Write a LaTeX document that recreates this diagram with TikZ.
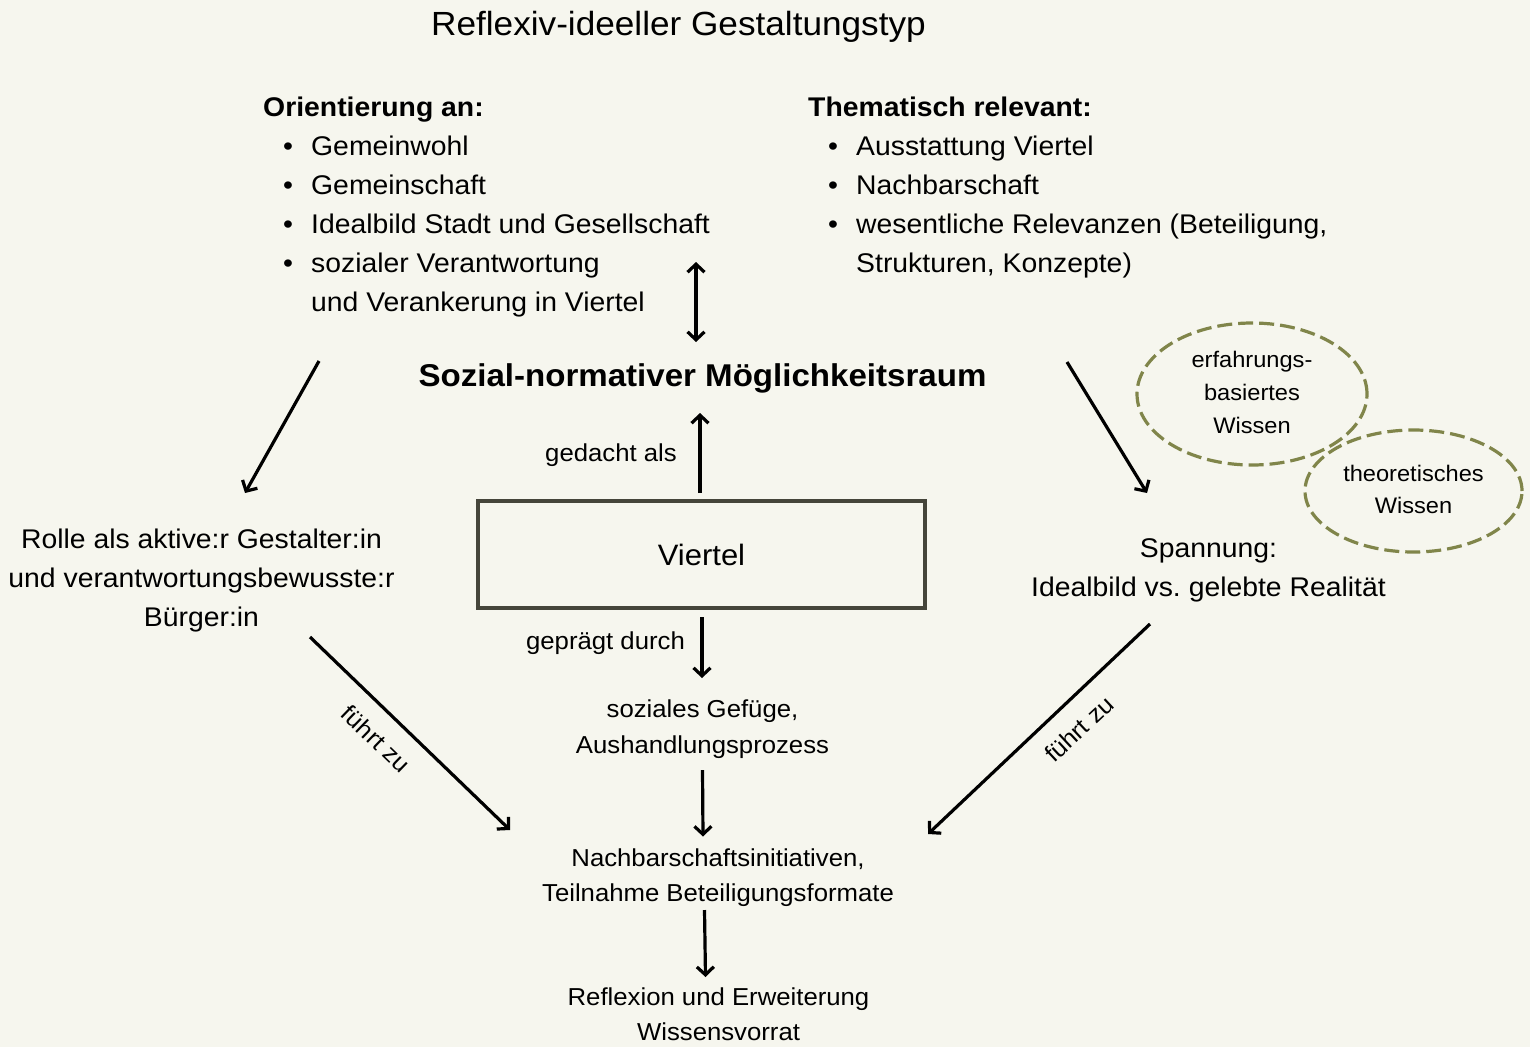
\documentclass[tikz,border=0pt]{standalone}
\usepackage{fontspec}
\setmainfont[FakeStretch=1.05]{Liberation Sans}
\usetikzlibrary{arrows.meta,shapes.geometric}
\definecolor{bgc}{HTML}{F6F6EE}
\definecolor{olivec}{HTML}{80854A}
\definecolor{boxc}{HTML}{45453A}
\newcommand{\fsz}[2]{\fontsize{#1}{#2}\selectfont}
\newcommand{\bul}{\makebox[48pt][l]{\hspace*{20pt}•}}
\newcommand{\ind}{\hspace*{48pt}}
\begin{document}
\begin{tikzpicture}[x=1pt,y=-1pt,
  txt/.style={inner sep=0pt, anchor=base, align=center},
  lst/.style={inner sep=0pt, anchor=base west, font=\fsz{27}{39}},
  arr/.style={line width=3.2pt, -{Straight Barb[length=8pt,width=17pt]}},
  darr/.style={line width=3.2pt, {Straight Barb[length=8pt,width=17pt]}-{Straight Barb[length=8pt,width=17pt]}},
  ell/.style={ellipse, draw=olivec, line width=3.2pt, dash pattern=on 15pt off 6pt, inner sep=0pt, align=center},
  lbl/.style={inner sep=0pt, font=\fsz{24}{28}}]
\fill[bgc] (0,0) rectangle (1530,1047);
\useasboundingbox (0,0) rectangle (1530,1047);

% title
\node[txt, font=\fsz{33.5}{40}] (title) at (678.5,35) {Reflexiv-ideeller Gestaltungstyp};

% lists
\node[lst] (orient) at (263,116.5) {\begin{tabular}[t]{@{}l@{}}
\textbf{Orientierung an:}\\
\bul Gemeinwohl\\
\bul Gemeinschaft\\
\bul Idealbild Stadt und Gesellschaft\\
\bul sozialer Verantwortung\\
\ind und Verankerung in Viertel
\end{tabular}};
\node[lst] (thema) at (808,116.5) {\begin{tabular}[t]{@{}l@{}}
\textbf{Thematisch relevant:}\\
\bul Ausstattung Viertel\\
\bul Nachbarschaft\\
\bul wesentliche Relevanzen (Beteiligung,\\
\ind Strukturen, Konzepte)
\end{tabular}};

% central column
\node[txt, font=\bfseries\fsz{31.5}{38}] (raum) at (702.5,386) {Sozial-normativer Möglichkeitsraum};
\node[txt, font=\fsz{24.5}{35.5}] (gedacht) at (611,461) {gedacht als};
\node[draw=boxc, line width=3.2pt, minimum width=447pt, minimum height=107pt, inner sep=0pt, font=\fsz{29.5}{35}] (viertel) at (701.5,554.5) {Viertel};
\node[txt, font=\fsz{24.5}{35.5}] (gepraegt) at (605.5,649) {geprägt durch};
\node[txt, font=\fsz{24.5}{36}] (gefuege) at (702.5,717) {\begin{tabular}[t]{@{}c@{}}soziales Gefüge,\\Aushandlungsprozess\end{tabular}};
\node[txt, font=\fsz{24.5}{35}] (initiativen) at (718,866.5) {\begin{tabular}[t]{@{}c@{}}Nachbarschaftsinitiativen,\\Teilnahme Beteiligungsformate\end{tabular}};
\node[txt, font=\fsz{24.5}{35}] (reflexion) at (718.5,1005.5) {\begin{tabular}[t]{@{}c@{}}Reflexion und Erweiterung\\Wissensvorrat\end{tabular}};

% side texts
\node[txt, font=\fsz{27}{39}] (rolle) at (201.5,548.5) {\begin{tabular}[t]{@{}c@{}}Rolle als aktive:r Gestalter:in\\und verantwortungsbewusste:r\\Bürger:in\end{tabular}};
\node[txt, font=\fsz{27}{39}] (spannung) at (1208.5,557) {\begin{tabular}[t]{@{}c@{}}Spannung:\\Idealbild vs.\ gelebte Realität\end{tabular}};

% ellipses
\node[ell, minimum width=230pt, minimum height=142pt, font=\fsz{22.5}{33}] (erfahrung) at (1252,394) {\begin{tabular}{@{}c@{}}erfahrungs-\\basiertes\\Wissen\end{tabular}};
\node[ell, minimum width=217pt, minimum height=122pt, font=\fsz{22.5}{32}] (theorie) at (1413.5,491) {\begin{tabular}{@{}c@{}}theoretisches\\Wissen\end{tabular}};

% rotated labels
\node[lbl, rotate=-44] (fuehrtL) at (376,739) {führt zu};
\node[lbl, rotate=43] (fuehrtR) at (1079,729) {führt zu};

% connector end points
\coordinate (dA) at (696,262);
\coordinate (dB) at (696,342);
\coordinate (vU) at (700,493);
\coordinate (rD) at (700,413);
\coordinate (vD) at (702,617);
\coordinate (gU) at (702,678);
\coordinate (gD) at (702.5,770);
\coordinate (nU) at (703,836.5);
\coordinate (nD) at (704.5,910);
\coordinate (fU) at (705.5,977);
\coordinate (oL) at (319,361);
\coordinate (rU) at (245,493);
\coordinate (tR) at (1067,362);
\coordinate (sU) at (1147,493);
\coordinate (rB) at (310,637);
\coordinate (nL) at (510,830);
\coordinate (sB) at (1150,624);
\coordinate (nR) at (928,834);

% connectors
\draw[darr] (dA) -- (dB);
\draw[arr] (vU) -- (rD);
\draw[arr] (vD) -- (gU);
\draw[arr] (gD) -- (nU);
\draw[arr] (nD) -- (fU);
\draw[arr] (oL) -- (rU);
\draw[arr] (tR) -- (sU);
\draw[arr] (rB) -- (nL);
\draw[arr] (sB) -- (nR);
\end{tikzpicture}
\end{document}
